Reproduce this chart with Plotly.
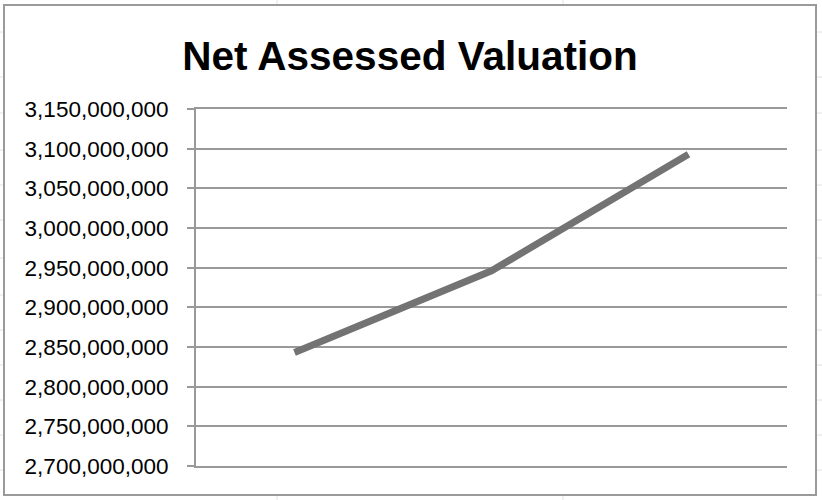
import plotly.graph_objects as go

# Data
categories = ["Year 1", "Year 2", "Year 3"]
net_assessed_valuation = [2843000000, 2946000000, 3093000000]
tick_values = [2700000000, 2750000000, 2800000000, 2850000000, 2900000000,
               2950000000, 3000000000, 3050000000, 3100000000, 3150000000]
tick_labels = ["2,700,000,000", "2,750,000,000", "2,800,000,000", "2,850,000,000",
               "2,900,000,000", "2,950,000,000", "3,000,000,000", "3,050,000,000",
               "3,100,000,000", "3,150,000,000"]

W, H = 822, 500
L, R, T, B = 196, 35, 109, 34
PW, PH = W - L - R, H - T - B


def px(x):
    return (x - L) / PW


def py(y):
    return (H - B - y) / PH


fig = go.Figure()
fig.add_trace(go.Scatter(
    x=categories, y=net_assessed_valuation, mode="lines",
    line=dict(color="#737373", width=7),
    hoverinfo="x+y", showlegend=False,
))

shapes = []
# spreadsheet background lines
for vx in [277, 563]:
    shapes.append(dict(type="line", xref="paper", yref="paper",
                       x0=px(vx), x1=px(vx), y0=py(0), y1=py(H),
                       line=dict(color="#e2e2e2", width=1), layer="below"))
for hy in [32, 77, 113, 150, 185, 220, 258, 295, 330, 365, 400, 435, 470]:
    for (a, b) in [(0, 4), (816, 822)]:
        shapes.append(dict(type="line", xref="paper", yref="paper",
                           x0=px(a), x1=px(b), y0=py(hy), y1=py(hy),
                           line=dict(color="#e2e2e2", width=1), layer="below"))
# chart area (white with gray border)
shapes.append(dict(type="rect", xref="paper", yref="paper",
                   x0=px(4), x1=px(816), y0=py(495), y1=py(5),
                   fillcolor="white", line=dict(color="#9a9a9a", width=2),
                   layer="below"))

fig.update_layout(
    width=W, height=H,
    margin=dict(l=L, r=R, t=T, b=B, pad=0),
    paper_bgcolor="white", plot_bgcolor="rgba(0,0,0,0)",
    title=dict(text="<b>Net Assessed Valuation</b>", x=410 / W, xref="container",
               xanchor="center", y=1 - 56 / H, yref="container", yanchor="middle",
               font=dict(family="Liberation Sans, Arial, sans-serif", size=40.5,
                         color="black")),
    font=dict(family="Liberation Sans, Arial, sans-serif", color="black"),
    shapes=shapes,
    xaxis=dict(type="category", showticklabels=False, showgrid=False,
               zeroline=False, showline=True, mirror=True, linecolor="#999999",
               linewidth=2, ticks="",
               range=[-0.5, 2.5], fixedrange=True),
    yaxis=dict(range=[2700000000, 3150000000], tickvals=tick_values,
               ticktext=tick_labels, showgrid=True, gridcolor="#999999",
               gridwidth=2, zeroline=False, showline=True, linecolor="#999999",
               linewidth=2, ticks="outside", ticklen=7, tickcolor="#999999",
               tickwidth=2, ticklabelstandoff=14,
               tickfont=dict(size=22.5, color="black"), fixedrange=True),
)

fig.write_html("out.html", config={"displayModeBar": False},
               post_script="document.body.style.margin='0';document.body.style.padding='0';")
